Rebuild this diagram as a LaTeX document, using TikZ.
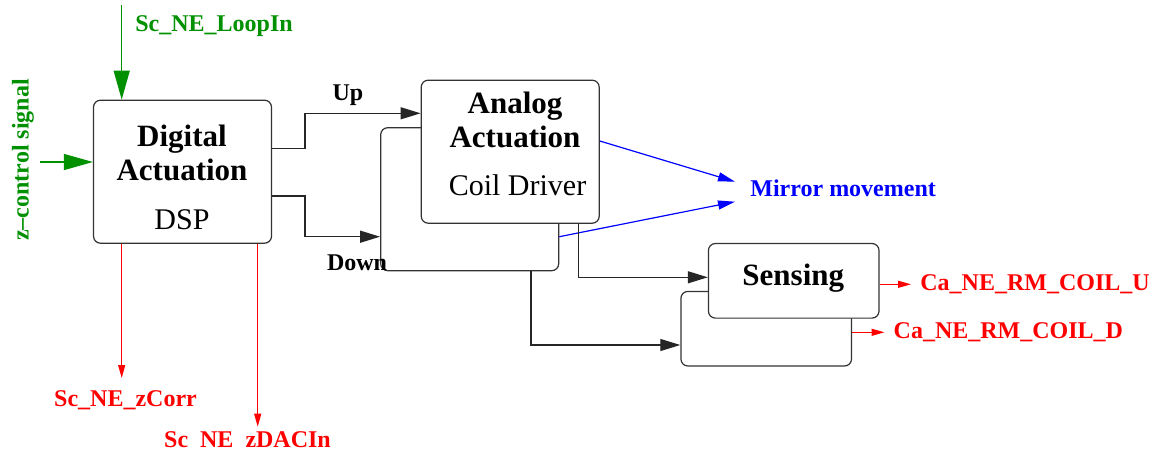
\documentclass[tikz,border=0pt]{standalone}
\usepackage{fontspec}
\setmainfont{Liberation Serif}
\usetikzlibrary{arrows.meta,positioning,calc}
\definecolor{sigreen}{RGB}{0,144,0}
\definecolor{sigred}{RGB}{255,0,0}
\definecolor{sigblue}{RGB}{0,0,255}

\begin{document}
\begin{tikzpicture}[
  x=0.5pt, y=-0.5pt,
  blk/.style={draw=black!80, fill=white, rounded corners=3.5pt, line width=0.6pt,
    inner sep=0pt, minimum width=89pt, minimum height=71.5pt},
  sblk/.style={blk, minimum width=85.3pt, minimum height=37.3pt},
  head/.style={font=\fontsize{15.5}{17}\selectfont\bfseries, inner sep=0pt, anchor=base},
  body/.style={font=\fontsize{15}{17}\selectfont, inner sep=0pt, anchor=base},
  lbl/.style={font=\fontsize{12}{14}\selectfont\bfseries, inner sep=0pt, anchor=base},
  conn/.style={line width=0.6pt, draw=black!85, -{Triangle[length=10pt,width=6pt]}},
  inarrow/.style={line width=0.7pt, draw=sigreen, -{Triangle[length=14.5pt,width=8pt]}},
  outarrow/.style={line width=0.6pt, draw=sigred, -{Triangle[length=6.5pt,width=3.5pt]}},
  mvarrow/.style={line width=0.6pt, draw=sigblue, -{Triangle[length=8.5pt,width=4.5pt]}}
]
  \useasboundingbox (0,0) rectangle (1159,455);

  % Blocks (back copies first)
  \node[blk] (dig) at (182.5,171.7) {};
  \node[blk] (anab) at (469.7,199.2) {};
  \node[blk] (anaf) at (510.2,151.7) {};
  \node[sblk] (senb) at (766.2,328.7) {};
  \node[sblk] (senf) at (793.7,280.8) {};

  % Block texts
  \node[head] (dig1) at (182,146.7) {Digital};
  \node[head] (dig2) at (182,180.7) {Actuation};
  \node[body] (dig3) at (182,229.5) {DSP};
  \node[head] (ana1) at (515,113) {Analog};
  \node[head] (ana2) at (515,147.3) {Actuation};
  \node[body] (ana3) at (517.5,195) {Coil Driver};
  \node[head] (sen1) at (793.3,285) {Sensing};

  % Inputs
  \node[lbl, text=sigreen, anchor=base west] (loopin) at (135,31.7) {Sc\_NE\_LoopIn};
  \node[lbl, text=sigreen, rotate=90] (zctrl) at (28.5,160) {z--control signal};
  \coordinate (loopsrc) at (121.7,5);
  \coordinate (zsrc) at (40,162);
  \draw[inarrow] (loopsrc) -- (dig.north -| loopsrc);
  \draw[inarrow] (zsrc) -- (dig.west |- zsrc);

  % Up / Down
  \node[lbl] (up) at (348,100) {Up};
  \node[lbl] (down) at (357,270.7) {Down};
  \draw[conn] (dig.east |- 0,148.3) -- (305,148.3) |- (anaf.west |- 0,113.3);
  \draw[conn] (dig.east |- 0,196) -- (305,196) |- (anab.west |- 0,236.7);

  % Digital outputs
  \coordinate (zcorr) at (121.7,378);
  \coordinate (zdac) at (257.7,426.7);
  \draw[outarrow] (dig.south -| zcorr) -- (zcorr);
  \draw[outarrow] (dig.south -| zdac) -- (zdac);
  \node[lbl, text=sigred] (zcorrlbl) at (125.5,406.7) {Sc\_NE\_zCorr};
  \node[lbl, text=sigred] (zdaclbl) at (247.5,447.7) {Sc\hphantom{\_}NE\hphantom{\_}zDACIn};

  % Mirror movement
  \node[lbl, text=sigblue, anchor=base west] (mirror) at (750,196) {Mirror movement};
  \coordinate (mvup) at (735,181.7);
  \coordinate (mvdown) at (735,201.7);
  \draw[mvarrow] (anaf.east |- 0,141) -- (mvup);
  \draw[mvarrow] (anab.east |- 0,236.7) -- (mvdown);

  % Driver to sensing
  \draw[conn] (anaf.south -| 578.3,0) |- (senf.west |- 0,277.3);
  \draw[conn] (anab.south -| 531,0) |- (senb.west |- 0,345);

  % Sensing outputs
  \coordinate (coilu) at (911,284.3);
  \coordinate (coild) at (884.5,332.3);
  \draw[outarrow] (senf.east |- coilu) -- (coilu);
  \draw[outarrow] (senb.east |- coild) -- (coild);
  \node[lbl, text=sigred, anchor=base west] (coilulbl) at (920,290.7) {Ca\_NE\_RM\_COIL\_U};
  \node[lbl, text=sigred, anchor=base west] (coildlbl) at (893.3,338.3) {Ca\_NE\_RM\_COIL\_D};
\end{tikzpicture}
\end{document}
